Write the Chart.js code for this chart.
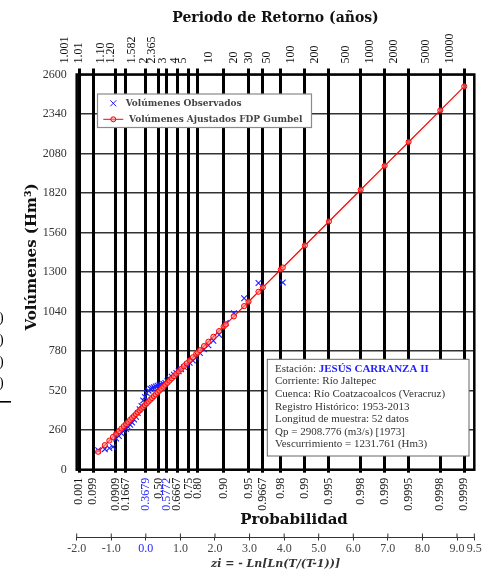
<!DOCTYPE html>
<html>
<head>
<meta charset="utf-8">
<script src="https://cdn.jsdelivr.net/npm/chart.js@4.4.1/dist/chart.umd.min.js"></script>
<style>
  html, body { margin: 0; padding: 0; background: #fff; }
  #wrap { width: 490px; height: 571px; }
</style>
</head>
<body>
<div id="wrap"><canvas id="grafica" width="490" height="571"></canvas></div>
<script>
// periodos de retorno y su variable reducida z = -ln(ln(T/(T-1)))
const periodos = ['1.001', '1.01', '1.10', '1.20', '1.582', '2', '2.365', '3', '4', '5', '10', '20', '30', '50', '100', '200', '500', '1000', '2000', '5000', '10000'];
const probabilidades = ['0.001', '0.099', '0.0909', '0.1667', '0.3679', '0.50', '0.5772', '0.6667', '0.75', '0.80', '0.90', '0.95', '0.9667', '0.98', '0.99', '0.995', '0.998', '0.999', '0.9995', '0.9998', '0.9999'];
const zPeriodos = [-1.933, -1.527, -0.875, -0.583, 0.000, 0.367, 0.598, 0.903, 1.246, 1.500, 2.250, 2.970, 3.384, 3.902, 4.600, 5.296, 6.214, 6.907, 7.600, 8.517, 9.210];
const zEje = [-2, -1, 0, 1, 2, 3, 4, 5, 6, 7, 8, 9, 9.5];

// volumenes observados (ordenados) con su posicion de graficacion
const zObs = [-1.379, -1.187, -1.055, -0.949, -0.859, -0.779, -0.705, -0.637, -0.573, -0.511, -0.453, -0.396, -0.340, -0.286, -0.233, -0.180, -0.128, -0.077, -0.026, 0.026, 0.077, 0.130, 0.181, 0.234, 0.286, 0.340, 0.394, 0.449, 0.506, 0.564, 0.623, 0.684, 0.747, 0.812, 0.880, 0.950, 1.023, 1.101, 1.182, 1.268, 1.360, 1.458, 1.565, 1.682, 1.810, 1.954, 2.119, 2.312, 2.545, 2.843, 3.258, 3.961];
const volObs = [128, 135, 142, 150, 205, 222, 240, 258, 268, 280, 296, 310, 330, 348, 372, 398, 420, 455, 478, 505, 520, 532, 538, 543, 548, 552, 556, 560, 565, 570, 582, 598, 612, 625, 636, 648, 660, 675, 690, 703, 718, 738, 768, 792, 818, 848, 888, 965, 1030, 1128, 1228, 1231.761];

// volumenes ajustados con la FDP Gumbel
const zAjuste = [-1.379, -1.187, -1.055, -0.949, -0.859, -0.779, -0.705, -0.637, -0.573, -0.511, -0.453, -0.396, -0.340, -0.286, -0.233, -0.180, -0.128, -0.077, -0.026, 0.026, 0.077, 0.130, 0.181, 0.234, 0.286, 0.340, 0.394, 0.449, 0.506, 0.564, 0.623, 0.684, 0.747, 0.812, 0.880, 0.950, 1.023, 1.101, 1.182, 1.268, 1.360, 1.458, 1.500, 1.565, 1.682, 1.810, 1.954, 2.119, 2.250, 2.312, 2.545, 2.843, 2.970, 3.258, 3.384, 3.902, 3.961, 4.600, 5.296, 6.214, 6.907, 7.600, 8.517, 9.210];
const volAjuste = [118.0, 161.6, 191.5, 215.6, 236.0, 254.2, 271.0, 286.4, 300.9, 315.0, 328.2, 341.1, 353.8, 366.1, 378.1, 390.1, 401.9, 413.5, 425.1, 436.9, 448.5, 460.5, 472.1, 484.1, 495.9, 508.2, 520.4, 532.9, 545.9, 559.0, 572.4, 586.3, 600.6, 615.3, 630.8, 646.7, 663.2, 680.9, 699.3, 718.8, 739.7, 762.0, 771.5, 786.3, 812.8, 841.9, 874.6, 912.0, 941.8, 955.8, 1008.7, 1076.4, 1105.2, 1170.6, 1199.2, 1316.8, 1330.1, 1475.2, 1633.2, 1841.6, 1998.9, 2156.2, 2364.4, 2521.7];

const infoEstacion = [
  'Corriente: Río Jaltepec',
  'Cuenca: Río Coatzacoalcos (Veracruz)',
  'Registro Histórico: 1953-2013',
  'Longitud de muestra: 52 datos',
  'Qp = 2908.776 (m3/s) [1973]',
  'Vescurrimiento = 1231.761 (Hm3)'
];

const azul = '#1f1fff';
const rojo = '#ff0000';
const serif = "'Liberation Serif', 'Times New Roman', serif";
const serifAncha = "'DejaVu Serif', serif";
const fuenteTick = { family: serif, size: 12 };

function fijarTicks(valores) {
  return scale => { scale.ticks = valores.map(v => ({ value: v })); };
}

// marco, leyenda, cuadro de la estacion y titulos desplazados
const extras = {
  id: 'extras',
  afterDraw(chart) {
    const { ctx, chartArea: a, scales } = chart;
    ctx.save();

    ctx.strokeStyle = '#000';
    ctx.lineWidth = 2.5;
    ctx.strokeRect(a.left, a.top, a.right - a.left, a.bottom - a.top);

    // marcas hacia arriba del eje zi
    const ez = scales.xZ;
    ctx.strokeStyle = '#333';
    ctx.lineWidth = 1;
    ez.ticks.forEach(t => {
      const px = ez.getPixelForValue(t.value);
      ctx.beginPath();
      ctx.moveTo(px, ez.top - 3.5);
      ctx.lineTo(px, ez.top);
      ctx.stroke();
    });

    // leyenda
    ctx.fillStyle = '#fff';
    ctx.fillRect(97.5, 94, 214, 33.5);
    ctx.strokeStyle = '#8a8a8a';
    ctx.lineWidth = 1.2;
    ctx.strokeRect(97.5, 94, 214, 33.5);
    ctx.strokeStyle = azul;
    ctx.lineWidth = 1;
    ctx.beginPath();
    ctx.moveTo(110.3, 100.3); ctx.lineTo(116.3, 106.3);
    ctx.moveTo(116.3, 100.3); ctx.lineTo(110.3, 106.3);
    ctx.stroke();
    ctx.strokeStyle = rojo;
    ctx.beginPath();
    ctx.moveTo(103.3, 119.3); ctx.lineTo(123.3, 119.3);
    ctx.stroke();
    ctx.fillStyle = 'rgba(255,150,150,0.6)';
    ctx.beginPath();
    ctx.arc(113.3, 119.3, 2.5, 0, Math.PI * 2);
    ctx.fill(); ctx.stroke();
    ctx.fillStyle = '#444';
    ctx.font = 'bold 9px ' + serifAncha;
    ctx.textBaseline = 'middle';
    ctx.textAlign = 'left';
    ctx.fillText('Volúmenes Observados', 125.7, 103.3);
    ctx.fillText('Volúmenes Ajustados FDP Gumbel', 129, 119.3);

    // cuadro de la estacion
    ctx.fillStyle = '#fff';
    ctx.fillRect(267.3, 359.3, 201.7, 96.7);
    ctx.strokeStyle = '#666';
    ctx.lineWidth = 1;
    ctx.strokeRect(267.3, 359.3, 201.7, 96.7);
    ctx.font = '11px ' + serif;
    ctx.fillStyle = '#333';
    ctx.fillText('Estación: ', 275, 369);
    const w = ctx.measureText('Estación: ').width;
    ctx.font = 'bold 11px ' + serif;
    ctx.fillStyle = azul;
    ctx.fillText('JESÚS CARRANZA II', 275 + w, 369);
    ctx.font = '11px ' + serif;
    ctx.fillStyle = '#333';
    infoEstacion.forEach((txt, i) => ctx.fillText(txt, 275, 381.6 + i * 12.6));

    ctx.font = 'bold 15px ' + serifAncha;
    ctx.fillStyle = '#111';
    ctx.textAlign = 'center';
    ctx.fillText('Probabilidad', 294, 520);

    ctx.save();
    ctx.translate(32, 257);
    ctx.rotate(-Math.PI / 2);
    ctx.fillText('Volúmenes (Hm³)', 0, 0);
    ctx.restore();

    // restos de texto en el borde izquierdo
    ctx.font = '14px ' + serif;
    ctx.textAlign = 'left';
    ctx.fillStyle = '#000';
    [318, 340, 362, 383].forEach(y => ctx.fillText(')', -1, y));
    ctx.fillRect(0, 401, 11, 1.6);

    ctx.restore();
  }
};

new Chart(document.getElementById('grafica'), {
  type: 'scatter',
  data: {
    datasets: [
      {
        label: 'Volúmenes Ajustados FDP Gumbel',
        data: zAjuste.map((z, i) => ({ x: z, y: volAjuste[i] })),
        showLine: true,
        borderColor: rojo,
        borderWidth: 1.2,
        pointStyle: 'circle',
        pointRadius: 2.6,
        pointBorderColor: rojo,
        pointBackgroundColor: 'rgba(255,150,150,0.6)',
        pointBorderWidth: 1,
        order: 0
      },
      {
        label: 'Volúmenes Observados',
        data: zObs.map((z, i) => ({ x: z, y: volObs[i] })),
        showLine: false,
        pointStyle: 'crossRot',
        pointRadius: 4,
        pointBorderColor: azul,
        pointBorderWidth: 1.1,
        order: 1
      }
    ]
  },
  options: {
    responsive: false,
    animation: false,
    layout: { padding: { left: 0, right: 15.7, top: 0, bottom: 0 } },
    plugins: { legend: { display: false }, tooltip: { enabled: false } },
    scales: {
      y: {
        min: 0,
        max: 2600,
        ticks: { stepSize: 260, font: fuenteTick, color: '#333', padding: 10, callback: v => String(v) },
        grid: { color: '#333', lineWidth: 1.5, drawTicks: false },
        border: { display: false },
        afterFit: s => { s.width = 76.7; }
      },
      xT: {
        type: 'linear',
        position: 'top',
        min: -2,
        max: 9.5,
        afterBuildTicks: fijarTicks(zPeriodos),
        ticks: {
          autoSkip: false, minRotation: 90, maxRotation: 90,
          font: fuenteTick, color: '#111', padding: 5,
          callback: (v, i) => periodos[i]
        },
        grid: { drawOnChartArea: false, tickLength: 6, lineWidth: 3, color: '#000' },
        border: { display: false },
        title: {
          display: true,
          text: 'Periodo de Retorno (años)',
          font: { family: serifAncha, size: 14, weight: 'bold' },
          color: '#111',
          padding: { top: 10, bottom: 0 }
        },
        afterFit: s => { s.height = 74.5; }
      },
      x: {
        type: 'linear',
        position: 'bottom',
        min: -2,
        max: 9.5,
        afterBuildTicks: fijarTicks(zPeriodos),
        ticks: {
          autoSkip: false, minRotation: 90, maxRotation: 90,
          font: fuenteTick, padding: 5,
          color: ctx => (ctx.index === 4 || ctx.index === 6) ? azul : '#111',
          callback: (v, i) => probabilidades[i]
        },
        grid: { color: '#000', lineWidth: 3, tickLength: 3 },
        border: { display: false },
        afterFit: s => { s.height = 67.3; }
      },
      xZ: {
        type: 'linear',
        position: 'bottom',
        weight: 1,
        min: -2,
        max: 9.5,
        afterBuildTicks: fijarTicks(zEje),
        ticks: {
          autoSkip: false, maxRotation: 0,
          font: fuenteTick, padding: 1,
          color: ctx => ctx.tick && ctx.tick.value === 0 ? azul : '#444',
          callback: v => v.toFixed(1)
        },
        grid: { drawOnChartArea: false, tickLength: 3.5, color: '#333', lineWidth: 1 },
        border: { display: true, color: '#333', width: 1 },
        title: {
          display: true,
          text: 'zi = - Ln[Ln(T/(T-1))]',
          font: { family: serifAncha, size: 11, weight: 'bold', style: 'italic' },
          color: '#333',
          padding: { top: 0, bottom: 0 }
        },
        afterFit: s => { s.height = 34; }
      }
    }
  },
  plugins: [extras]
});
</script>
</body>
</html>
